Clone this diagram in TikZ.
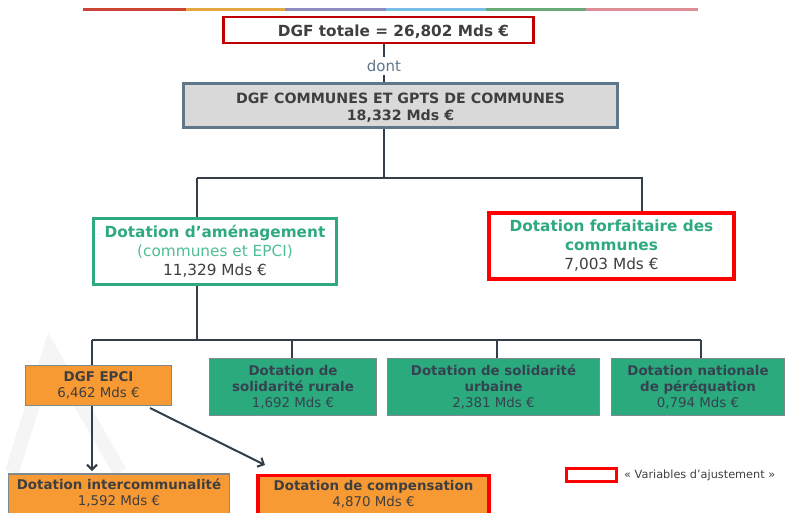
\documentclass[tikz,border=0pt]{standalone}
\usepackage{fontspec}
\setmainfont{DejaVu Sans}
\usetikzlibrary{arrows.meta}
\definecolor{dred}{HTML}{C00000}
\definecolor{bred}{HTML}{FF0000}
\definecolor{tgreen}{HTML}{2EAA7E}
\definecolor{lgreen}{HTML}{4DBF94}
\definecolor{fgreen}{HTML}{2BAA7D}
\definecolor{forange}{HTML}{F89A34}
\definecolor{fgray}{HTML}{D9D9D9}
\definecolor{bgray}{HTML}{5F7789}
\definecolor{ltxt}{HTML}{3F3F3F}
\definecolor{ctxt}{HTML}{354350}
\definecolor{cline}{HTML}{333E48}
\definecolor{boxedge}{HTML}{7F8A90}
\definecolor{bar1}{HTML}{CC4433}
\definecolor{bar2}{HTML}{E3A640}
\definecolor{bar3}{HTML}{8F8CBE}
\definecolor{bar4}{HTML}{78BEE6}
\definecolor{bar5}{HTML}{66AA78}
\definecolor{bar6}{HTML}{DE8C96}
\tikzset{
  box/.style={draw, rectangle, inner sep=0pt, align=center, text=ltxt},
  lowbox/.style={box, line width=1.6pt, draw=boxedge, font=\fontsize{13.4}{16}\selectfont},
  conn/.style={draw=cline, line width=2.4pt},
  arr/.style={draw=cline, line width=2pt, -{Straight Barb[length=5pt,width=10pt,line width=2pt]}},
}
\begin{document}
\begin{tikzpicture}[x=1pt,y=-1pt]
\useasboundingbox (0,0) rectangle (790,512);
% watermark
\draw[gray!8, line width=14pt, line join=miter] (12,472) -- (50,350) -- (120,472);
% color bar
\fill[bar1] (83,8) rectangle (186,11);
\fill[bar2] (186,8) rectangle (285,11);
\fill[bar3] (285,8) rectangle (386,11);
\fill[bar4] (386,8) rectangle (486,11);
\fill[bar5] (486,8) rectangle (586,11);
\fill[bar6] (586,8) rectangle (698,11);
% top
\node[box, draw=dred, line width=2.6pt, minimum width=310pt, minimum height=26pt,
  label={[xshift=15pt, yshift=-1.5pt, font=\bfseries\fontsize{15.3}{18}\selectfont, text=ltxt]center:DGF totale = 26,802 Mds €}] (top) at (378.5,30) {};
\node[text=bgray, font=\fontsize{15}{18}\selectfont] (dont) at (384,66) {dont};
\node[box, fill=fgray, draw=bgray, line width=2.6pt, minimum width=434pt, minimum height=44pt,
  label={[yshift=-2.5pt, align=center, text=ltxt, font=\bfseries\fontsize{14.2}{17}\selectfont]center:DGF COMMUNES ET GPTS DE COMMUNES\\18,332 Mds €}] (gpts) at (400.5,105.5) {};
% level 2
\node[box, draw=tgreen, fill=white, line width=2.4pt, minimum width=243pt, minimum height=66pt,
  font=\fontsize{15.3}{18.8}\selectfont] (amen) at (215,251.5)
  {\textcolor{tgreen}{\bfseries Dotation d’aménagement}\\\textcolor{lgreen}{(communes et EPCI)}\\\textcolor{ltxt}{11,329 Mds €}};
\node[box, draw=bred, fill=white, line width=3.2pt, minimum width=245pt, minimum height=66pt,
  font=\fontsize{15.3}{19}\selectfont] (forf) at (611.5,246)
  {\textcolor{tgreen}{\bfseries Dotation forfaitaire des}\\\textcolor{tgreen}{\bfseries communes}\\\textcolor{ltxt}{7,003 Mds €}};
% level 3
\node[lowbox, fill=forange, minimum width=146pt, minimum height=40pt] (epci) at (98.5,385.5)
  {\textbf{DGF EPCI}\\6,462 Mds €};
\node[lowbox, fill=fgreen, text=ctxt, minimum width=167pt, minimum height=57pt] (rur) at (293,387)
  {\textbf{Dotation de}\\\textbf{solidarité rurale}\\1,692 Mds €};
\node[lowbox, fill=fgreen, text=ctxt, minimum width=212pt, minimum height=57pt] (urb) at (493.5,387)
  {\textbf{Dotation de solidarité}\\\textbf{urbaine}\\2,381 Mds €};
\node[lowbox, fill=fgreen, text=ctxt, minimum width=173pt, minimum height=57pt] (nat) at (698,387)
  {\textbf{Dotation nationale}\\\textbf{de péréquation}\\0,794 Mds €};
% level 4
\node[lowbox, fill=forange, minimum width=221pt, inner ysep=5pt, anchor=north] (inter) at (119,473)
  {\textbf{Dotation intercommunalité}\\1,592 Mds €\\[8pt]};
\node[lowbox, fill=forange, draw=bred, line width=3.2pt, minimum width=231pt, inner ysep=5pt, anchor=north] (comp) at (373.5,473.5)
  {\textbf{Dotation de compensation}\\4,870 Mds €\\[8pt]};
% legend
\node[box, draw=bred, line width=2.6pt, minimum width=50pt, minimum height=13pt] (leg) at (591.5,475) {};
\node[anchor=west, text=ltxt, font=\fontsize{11.3}{13}\selectfont, inner sep=0pt] (legt) at (624,475) {« Variables d’ajustement »};
% connectors
\draw[conn] (top.south -| dont) -- (dont.north);
\draw[conn] (dont.south) -- (dont.south |- gpts.north);
\coordinate (j1) at (384,178);
\draw[conn] (gpts.south -| j1) -- (j1);
\draw[conn] (197,178) -| (amen.north -| 197,0);
\draw[conn] (197,178) -- (642,178) -- (forf.north -| 642,0);
\coordinate (j2) at (197,340);
\draw[conn] (amen.south -| j2) -- (j2);
\draw[conn] (92,340) -- (701,340);
\draw[conn] (92,340) -- (epci.north -| 92,0);
\draw[conn] (292,340) -- (rur.north -| 292,0);
\draw[conn] (497,340) -- (urb.north -| 497,0);
\draw[conn] (701,340) -- (nat.north -| 701,0);
\draw[arr] (epci.south -| 92,0) -- (92,471);
\draw[arr] (150,408) -- (265,465);
\end{tikzpicture}
\end{document}
